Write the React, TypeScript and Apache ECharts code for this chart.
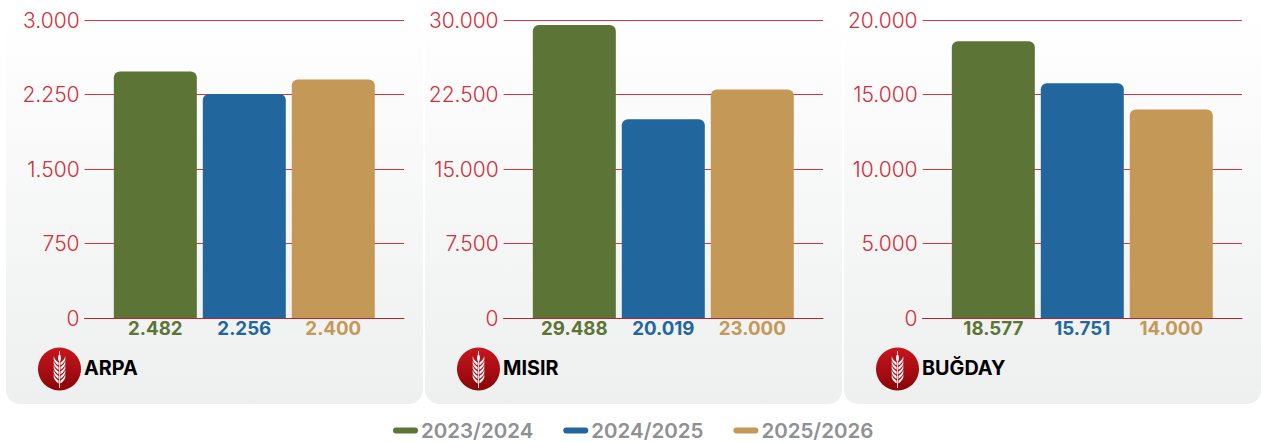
import React, { useEffect, useRef } from "react";
import * as echarts from "echarts";

const seasons = ["2023/2024", "2024/2025", "2025/2026"];
const crops = ["ARPA", "MISIR", "BUĞDAY"];
const arpaValues = [2482, 2256, 2400];
const misirValues = [29488, 20019, 23000];
const bugdayValues = [18577, 15751, 14000];
const axisMaxima = [3000, 30000, 20000];
const axisIntervals = [750, 7500, 5000];

const seriesValues = [arpaValues, misirValues, bugdayValues];
const colors = ["#5c7435", "#21679e", "#c49856"];
const FONT = "Inter";

function grain(y: number) {
  const t = (v: number) => (y + v).toFixed(1);
  return (
    `M19.1 ${t(6.5)} C16.5 ${t(5)} 14.8 ${t(3)} 14.2 ${t(0)} L14.2 ${t(3.6)} C15 ${t(6)} 16.8 ${t(8)} 19.1 ${t(9.4)} Z ` +
    `M20.9 ${t(6.5)} C23.5 ${t(5)} 25.2 ${t(3)} 25.8 ${t(0)} L25.8 ${t(3.6)} C25 ${t(6)} 23.2 ${t(8)} 20.9 ${t(9.4)} Z `
  );
}
const wheatPath =
  "M19.6 0 L20.4 0 L20.4 37 L19.6 37 Z " +
  "M20 2.5 C22 5.5 22 8.5 20 11.5 C18 8.5 18 5.5 20 2.5 Z " +
  [5, 9.5, 14, 18.5, 23].map(grain).join("");
echarts.graphic.registerShape("wheat", echarts.graphic.extendPath(wheatPath, {}));

const fmt = (v: number) => String(v).replace(/\B(?=(\d{3})+$)/g, ".");

const PANEL_STEP = 419;

export default function App() {
  const ref = useRef<HTMLDivElement>(null);
  useEffect(() => {
    const chart = echarts.init(ref.current!, undefined, { renderer: "svg" });
    const grids: any[] = [];
    const xAxes: any[] = [];
    const yAxes: any[] = [];
    const series: any[] = [];
    const graphic: any[] = [];
    crops.forEach((crop, i) => {
      const dx = PANEL_STEP * i;
      grids.push({ left: 84.6 + dx, top: 20, width: 319.4, height: 298 });
      xAxes.push({
        type: "category",
        gridIndex: i,
        data: [crop],
        axisTick: { show: false },
        axisLabel: { show: false },
        axisLine: { lineStyle: { color: "#b5252f", width: 1 } },
      });
      yAxes.push({
        type: "value",
        gridIndex: i,
        min: 0,
        max: axisMaxima[i],
        interval: axisIntervals[i],
        axisLine: { show: false },
        axisTick: { show: false },
        axisLabel: {
          margin: 5,
          color: "#d22f3a",
          fontFamily: FONT,
          fontSize: 21,
          fontWeight: 300,
          formatter: (v: number) => fmt(v),
        },
        splitLine: { lineStyle: { color: "#d9333f", width: 1 } },
      });
      seasons.forEach((s, j) => {
        series.push({
          type: "bar",
          name: s,
          xAxisIndex: i,
          yAxisIndex: i,
          data: [seriesValues[i][j]],
          barWidth: 83,
          barGap: "7.2%",
          itemStyle: { color: colors[j], borderRadius: [6, 6, 0, 0] },
          label: {
            show: true,
            position: "bottom",
            distance: 1,
            color: colors[j],
            fontFamily: FONT,
            fontSize: 18.7,
            fontWeight: 700,
            formatter: (p: any) => fmt(p.value),
          },
        });
      });
      graphic.push(
        {
          type: "rect",
          z: -10,
          shape: { x: 6 + dx, y: 14, width: 417, height: 390, r: 14 },
          style: {
            fill: new echarts.graphic.LinearGradient(0, 0, 0, 1, [
              { offset: 0, color: "#ffffff" },
              { offset: 1, color: "#eeefef" },
            ]),
          },
        },
        {
          type: "circle",
          z: 5,
          shape: { cx: 59.5 + dx, cy: 369, r: 21.5 },
          style: {
            fill: new echarts.graphic.LinearGradient(0, 0, 0, 1, [
              { offset: 0, color: "#c8161e" },
              { offset: 1, color: "#8a0508" },
            ]),
          },
        },
        { type: "wheat", z: 6, x: 39.5 + dx, y: 351, style: { fill: "#ffffff" } },
        {
          type: "text",
          z: 6,
          x: 84 + dx,
          y: 368,
          style: {
            text: crop,
            fill: "#000000",
            font: `700 19.8px "${FONT}"`,
            verticalAlign: "middle",
          },
        }
      );
    });
    chart.setOption({
      animation: false,
      backgroundColor: "#ffffff",
      grid: grids,
      xAxis: xAxes,
      yAxis: yAxes,
      series,
      graphic,
      legend: {
        data: seasons,
        left: 393,
        top: 420,
        padding: 0,
        itemWidth: 25,
        itemHeight: 6,
        itemGap: 30,
        icon: "path://M3 0 L22 0 A3 3 0 0 1 22 6 L3 6 A3 3 0 0 1 3 0 Z",
        textStyle: {
          color: "#8f9092",
          fontFamily: FONT,
          fontSize: 20.5,
          fontWeight: 600,
          padding: [0, 0, 0, -2],
        },
      },
    });
    return () => chart.dispose();
  }, []);
  return (
    <div
      ref={ref}
      style={{ position: "absolute", left: 0, top: 0, width: 1261, height: 443 }}
    />
  );
}
